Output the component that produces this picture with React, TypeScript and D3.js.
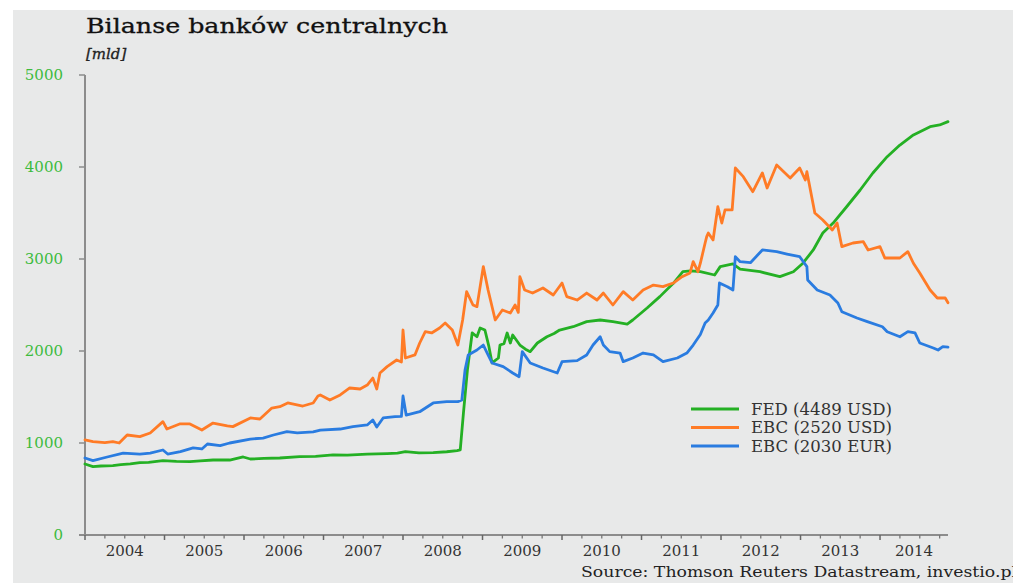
import React from 'react';
import * as d3 from 'd3';

const W = 1013;
const H = 583;

const titleText = 'Bilanse banków centralnych';
const unitText = '[mld]';
const sourceText = 'Source: Thomson Reuters Datastream, investio.pl';

const yearLabels = [2004, 2005, 2006, 2007, 2008, 2009, 2010, 2011, 2012, 2013, 2014];
const yTickValues = [0, 1000, 2000, 3000, 4000, 5000];

const seriesNames = ['FED (4489 USD)', 'EBC (2520 USD)', 'EBC (2030 EUR)'];
const seriesColors = ['#24b024', '#ff7b26', '#2a7ce0'];

// [decimal year, value in mld]
const fedData: [number, number][] = [
  [2004.0, 772], [2004.1, 743], [2004.2, 750], [2004.35, 753], [2004.45, 765], [2004.57, 772], [2004.69, 786],
  [2004.8, 790], [2004.98, 808], [2005.15, 800], [2005.32, 797], [2005.45, 805], [2005.61, 815], [2005.82, 815],
  [2005.99, 848], [2006.08, 826], [2006.25, 832], [2006.45, 837], [2006.7, 851], [2006.9, 855], [2007.12, 870],
  [2007.3, 868], [2007.55, 880], [2007.8, 885], [2007.93, 890], [2008.03, 906], [2008.2, 892], [2008.38, 895],
  [2008.55, 905], [2008.68, 917], [2008.72, 924], [2008.76, 1326], [2008.81, 1793], [2008.87, 2196],
  [2008.93, 2155], [2008.97, 2250], [2009.03, 2228], [2009.08, 2050], [2009.12, 1870], [2009.2, 1924],
  [2009.22, 2065], [2009.27, 2080], [2009.31, 2196], [2009.35, 2087], [2009.38, 2174], [2009.47, 2065],
  [2009.54, 2020], [2009.6, 1993], [2009.69, 2087], [2009.81, 2155], [2009.9, 2190], [2009.97, 2228],
  [2010.14, 2264], [2010.31, 2319], [2010.48, 2337], [2010.64, 2319], [2010.82, 2293], [2010.89, 2337],
  [2011.07, 2467], [2011.23, 2591], [2011.4, 2736], [2011.52, 2862], [2011.62, 2870], [2011.74, 2862],
  [2011.92, 2826], [2011.99, 2917], [2012.15, 2946], [2012.24, 2891], [2012.49, 2862], [2012.74, 2808],
  [2012.91, 2862], [2013.03, 2954], [2013.16, 3098], [2013.28, 3283], [2013.41, 3391], [2013.58, 3568],
  [2013.75, 3750], [2013.91, 3935], [2014.09, 4112], [2014.25, 4239], [2014.42, 4348], [2014.63, 4438],
  [2014.75, 4457], [2014.855, 4493],
];

const ebcUsdData: [number, number][] = [
  [2004.0, 1033], [2004.1, 1015], [2004.25, 1003], [2004.35, 1014], [2004.43, 1000], [2004.53, 1087],
  [2004.69, 1069], [2004.82, 1109], [2004.98, 1232], [2005.03, 1152], [2005.19, 1207], [2005.32, 1207],
  [2005.47, 1141], [2005.61, 1217], [2005.79, 1185], [2005.86, 1178], [2006.08, 1272], [2006.2, 1261],
  [2006.35, 1380], [2006.45, 1395], [2006.55, 1435], [2006.74, 1402], [2006.87, 1435], [2006.93, 1511],
  [2006.96, 1522], [2007.08, 1467], [2007.21, 1522], [2007.33, 1598], [2007.46, 1587], [2007.55, 1630],
  [2007.62, 1706], [2007.67, 1587], [2007.71, 1761], [2007.8, 1830], [2007.92, 1902], [2007.98, 1880],
  [2008.0, 2228], [2008.03, 1924], [2008.15, 1957], [2008.21, 2087], [2008.28, 2210], [2008.36, 2196],
  [2008.46, 2250], [2008.53, 2304], [2008.62, 2228], [2008.69, 2065], [2008.75, 2337], [2008.8, 2645],
  [2008.88, 2500], [2008.93, 2482], [2009.01, 2917], [2009.07, 2663], [2009.16, 2337], [2009.25, 2446],
  [2009.35, 2413], [2009.41, 2500], [2009.45, 2420], [2009.47, 2808], [2009.53, 2663], [2009.63, 2630],
  [2009.76, 2685], [2009.89, 2609], [2010.0, 2739], [2010.06, 2591], [2010.19, 2554], [2010.31, 2630],
  [2010.44, 2554], [2010.52, 2630], [2010.64, 2500], [2010.77, 2645], [2010.89, 2554], [2011.02, 2663],
  [2011.15, 2717], [2011.27, 2699], [2011.4, 2739], [2011.51, 2808], [2011.61, 2848], [2011.65, 2971],
  [2011.71, 2862], [2011.74, 2954], [2011.8, 3174], [2011.82, 3243], [2011.84, 3283], [2011.9, 3207],
  [2011.96, 3568], [2012.01, 3391], [2012.05, 3533], [2012.14, 3533], [2012.18, 3989], [2012.28, 3895],
  [2012.4, 3732], [2012.52, 3935], [2012.58, 3772], [2012.7, 4022], [2012.87, 3880], [2012.99, 3989],
  [2013.06, 3859], [2013.08, 3949], [2013.18, 3500], [2013.28, 3424], [2013.4, 3315], [2013.46, 3391],
  [2013.52, 3134], [2013.66, 3174], [2013.79, 3188], [2013.85, 3098], [2014.0, 3134], [2014.06, 3011],
  [2014.25, 3011], [2014.35, 3080], [2014.42, 2954], [2014.5, 2848], [2014.63, 2663], [2014.72, 2576],
  [2014.82, 2576], [2014.855, 2525],
];

const ebcEurData: [number, number][] = [
  [2004.0, 837], [2004.1, 808], [2004.28, 848], [2004.48, 891], [2004.69, 880], [2004.82, 891],
  [2004.98, 924], [2005.04, 880], [2005.2, 906], [2005.36, 946], [2005.47, 935], [2005.54, 989],
  [2005.7, 971], [2005.82, 1000], [2006.08, 1043], [2006.24, 1054], [2006.37, 1087], [2006.54, 1123],
  [2006.67, 1109], [2006.87, 1120], [2006.96, 1141], [2007.21, 1152], [2007.37, 1178], [2007.55, 1196],
  [2007.62, 1250], [2007.67, 1174], [2007.75, 1272], [2007.9, 1286], [2007.98, 1290], [2008.0, 1511],
  [2008.04, 1304], [2008.21, 1340], [2008.38, 1435], [2008.55, 1449], [2008.69, 1449], [2008.74, 1467],
  [2008.78, 1793], [2008.82, 1957], [2008.93, 2011], [2009.01, 2065], [2009.07, 1957], [2009.12, 1870],
  [2009.26, 1830], [2009.38, 1761], [2009.46, 1721], [2009.5, 1993], [2009.6, 1870], [2009.76, 1815],
  [2009.94, 1761], [2010.0, 1884], [2010.19, 1895], [2010.31, 1957], [2010.39, 2065], [2010.48, 2155],
  [2010.52, 2065], [2010.6, 1993], [2010.73, 1978], [2010.77, 1884], [2010.89, 1924], [2011.02, 1978],
  [2011.15, 1957], [2011.27, 1884], [2011.45, 1924], [2011.57, 1978], [2011.65, 2065], [2011.74, 2180],
  [2011.8, 2304], [2011.84, 2337], [2011.9, 2413], [2011.96, 2500], [2011.98, 2739], [2012.08, 2699],
  [2012.15, 2663], [2012.18, 3025], [2012.24, 2971], [2012.37, 2960], [2012.52, 3098], [2012.7, 3080],
  [2012.83, 3054], [2012.99, 3025], [2013.08, 2917], [2013.09, 2772], [2013.21, 2663], [2013.37, 2609],
  [2013.47, 2522], [2013.52, 2427], [2013.71, 2359], [2013.84, 2319], [2014.03, 2264], [2014.09, 2210],
  [2014.25, 2155], [2014.35, 2210], [2014.44, 2196], [2014.5, 2087], [2014.67, 2033], [2014.73, 2011],
  [2014.79, 2047], [2014.855, 2043],
];

const seriesData = [fedData, ebcUsdData, ebcEurData];

const FONT = "'DejaVu Serif', 'Liberation Serif', serif";

export default function App() {
  const xStart = 2004;
  const xEnd = 2014.855;
  const x = d3.scaleLinear().domain([xStart, xEnd]).range([85, 948]);
  const y = d3.scaleLinear().domain([0, 5000]).range([535, 75]);
  const line = d3
    .line<[number, number]>()
    .x((d) => x(d[0]))
    .y((d) => y(d[1]))
    .curve(d3.curveLinear);

  const quarterTicks: number[] = [];
  for (let t = xStart; t <= xEnd + 1e-9; t += 0.25) quarterTicks.push(t);

  const axisColor = '#8c8c8c';

  return (
    <svg
      width={W}
      height={H}
      style={{ position: 'absolute', left: 0, top: 0, background: '#ffffff' }}
    >
      <rect x={13} y={10} width={1000} height={573} fill="#e8e9e9" />

      <text x={86} y={33} fontFamily={FONT} fontSize={21} fill="#111" stroke="#111" strokeWidth={0.3} textLength={362} lengthAdjust="spacingAndGlyphs">
        {titleText}
      </text>
      <text x={86} y={59} fontFamily={FONT} fontSize={15} fontStyle="italic" fill="#222" stroke="#222" strokeWidth={0.3}>
        {unitText}
      </text>

      {/* Y axis */}
      <line x1={85} x2={85} y1={y(5000)} y2={y(0)} stroke={axisColor} strokeWidth={2} />
      {yTickValues.map((v) => (
        <g key={v}>
          <line x1={79} x2={85} y1={y(v)} y2={y(v)} stroke={axisColor} strokeWidth={1.5} />
          <text
            x={63}
            y={y(v)}
            dy="0.35em"
            textAnchor="end"
            fontFamily={FONT}
            fontSize={15}
            fill="#3dbb3d"
          >
            {v}
          </text>
        </g>
      ))}

      {/* X axis */}
      <line x1={79} x2={x(xEnd)} y1={y(0)} y2={y(0)} stroke={axisColor} strokeWidth={2} />
      {quarterTicks.map((t) => {
        const major = Math.abs(t - Math.round(t)) < 1e-6;
        return (
          <line
            key={t}
            x1={x(t)}
            x2={x(t)}
            y1={y(0)}
            y2={y(0) + (major ? 5 : 3.5)}
            stroke={major ? '#666' : '#777'}
            strokeWidth={major ? 1.5 : 1.3}
          />
        );
      })}
      {yearLabels.map((yr) => {
        const a = x(yr);
        const b = x(Math.min(yr + 1, xEnd));
        return (
          <text
            key={yr}
            x={(a + b) / 2}
            y={556}
            textAnchor="middle"
            fontFamily={FONT}
            fontSize={15}
            fill="#333"
          >
            {yr}
          </text>
        );
      })}

      {/* Series */}
      {seriesData.map((d, i) => (
        <path
          key={i}
          d={line(d) || ''}
          fill="none"
          stroke={seriesColors[i]}
          strokeWidth={2.8}
          strokeLinejoin="round"
          strokeLinecap="round"
        />
      ))}

      {/* Legend */}
      {seriesNames.map((name, i) => {
        const ly = 409 + i * 18.5;
        return (
          <g key={name}>
            <line x1={691} x2={739} y1={ly} y2={ly} stroke={seriesColors[i]} strokeWidth={3} />
            <text
              x={751}
              y={ly}
              dy="0.35em"
              fontFamily={FONT}
              fontSize={16}
              fill="#333"
              textLength={141}
              lengthAdjust="spacingAndGlyphs"
            >
              {name}
            </text>
          </g>
        );
      })}

      <text x={581} y={577} fontFamily={FONT} fontSize={15} fill="#222" textLength={436} lengthAdjust="spacingAndGlyphs">
        {sourceText}
      </text>
    </svg>
  );
}
